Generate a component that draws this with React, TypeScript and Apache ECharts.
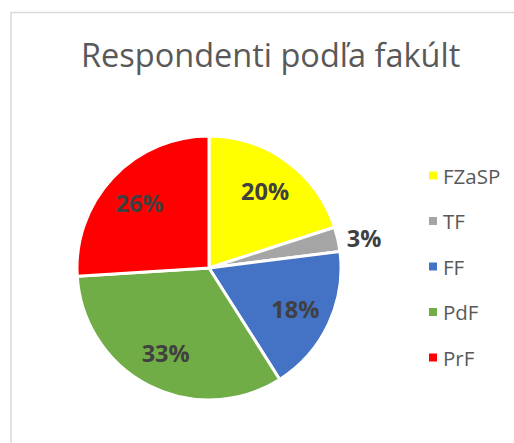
import React, { useEffect, useRef } from "react";
import * as echarts from "echarts";

const titleText = "Respondenti podľa fakúlt";
const categories = ["FZaSP", "TF", "FF", "PdF", "PrF"];
const values = [20, 3, 18, 33, 26];
const colors = ["#FFFF00", "#A5A5A5", "#4472C4", "#70AD47", "#FF0000"];
const outsideLabels = ["TF"];

export default function App() {
  const ref = useRef<HTMLDivElement>(null);
  useEffect(() => {
    if (!ref.current) return;
    const chart = echarts.init(ref.current, null, { renderer: "svg" });
    const R = 132;
    const center = [209, 268];
    const total = values.reduce((a, b) => a + b, 0);
    chart.setOption({
      animation: false,
      backgroundColor: "#ffffff",
      title: {
        text: titleText,
        left: 76,
        top: 33,
        textStyle: {
          fontFamily: "Open Sans",
          fontSize: 32.5,
          fontWeight: "normal",
          color: "#595959",
        },
      },
      graphic: [
        {
          type: "rect",
          shape: { x: 11, y: 12.5, width: 700, height: 700 },
          style: { fill: "none", stroke: "#d9d9d9", lineWidth: 1.5 },
          silent: true,
        },
      ],
      legend: {
        orient: "vertical",
        left: 424,
        top: 160,
        itemWidth: 8,
        itemHeight: 8,
        itemGap: 24.5,
        icon: "rect",
        data: categories,
        itemStyle: { borderWidth: 0 },
        textStyle: {
          fontFamily: "Open Sans",
          fontSize: 20.5,
          color: "#595959",
          padding: [0, 0, 0, 1],
        },
      },
      series: [
        {
          type: "pie",
          radius: [0, R],
          center,
          startAngle: 90,
          clockwise: true,
          label: { show: false },
          labelLine: { show: false },
          itemStyle: { borderColor: "#ffffff", borderWidth: 3 },
          data: categories.map((c, i) => ({
            name: c,
            value: values[i],
            itemStyle: { color: colors[i] },
          })),
        },
        {
          type: "pie",
          radius: [R * 0.4, R],
          center,
          startAngle: 90,
          clockwise: true,
          silent: true,
          avoidLabelOverlap: false,
          itemStyle: { color: "rgba(0,0,0,0)", borderWidth: 0 },
          labelLine: { show: false, length: 4, length2: 0 },
          label: {
            show: true,
            position: "inside",
            fontFamily: "Open Sans",
            fontWeight: "bold",
            fontSize: 23.5,
            color: "#404040",
            formatter: (p: any) => Math.round((p.value / total) * 100) + "%",
          },
          data: categories.map((c, i) => ({
            name: c,
            value: values[i],
            label: outsideLabels.includes(c)
              ? { position: "outside" }
              : { position: "inside" },
          })),
        },
      ],
    });
    return () => chart.dispose();
  }, []);
  return (
    <div
      ref={ref}
      style={{ position: "fixed", left: 0, top: 0, width: 514, height: 443 }}
    />
  );
}
